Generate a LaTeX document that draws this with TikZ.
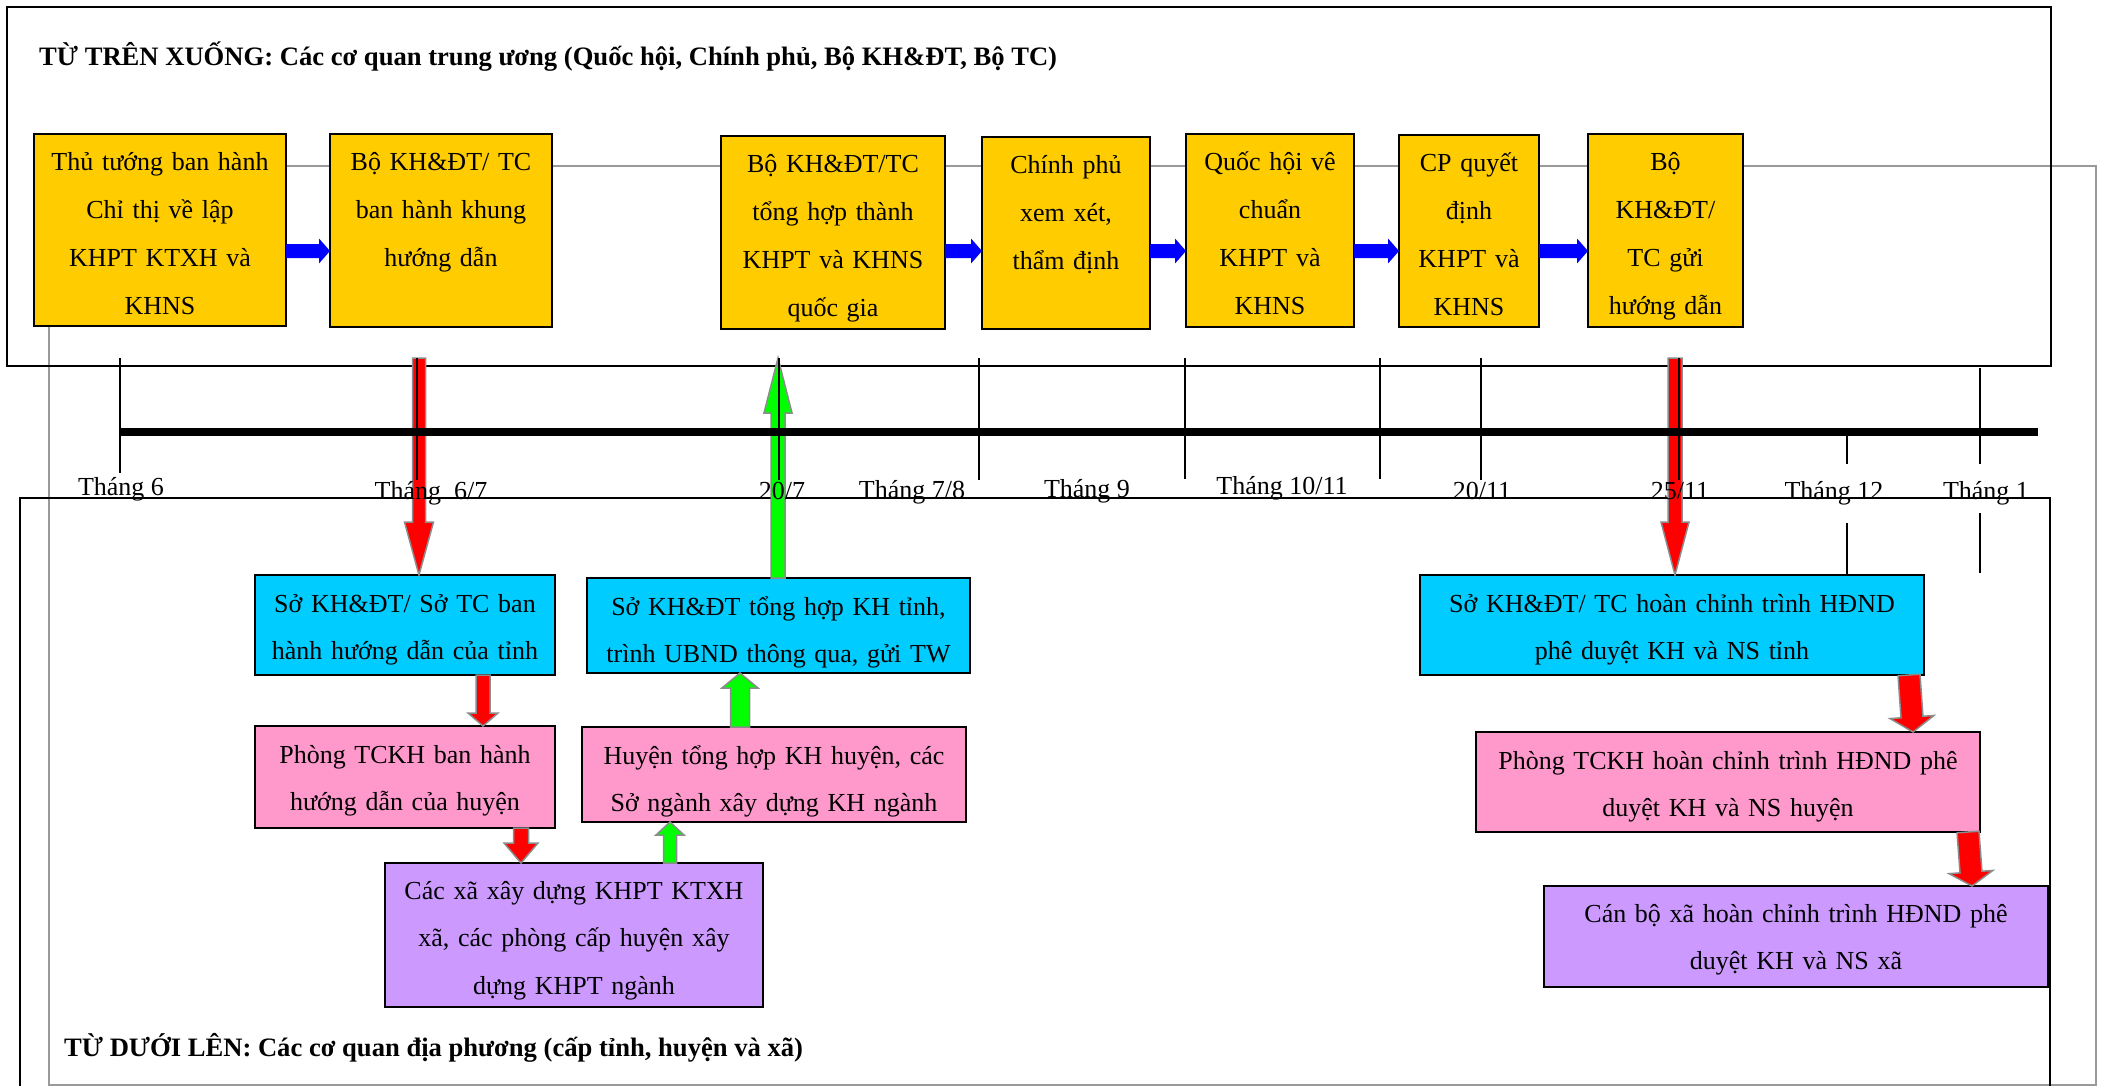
\documentclass[tikz,border=0pt]{standalone}
\usepackage{fontspec}
\setmainfont{Liberation Serif}
\usetikzlibrary{calc}

\definecolor{boxyellow}{HTML}{FFCC00}
\definecolor{boxcyan}{HTML}{00CCFF}
\definecolor{boxpink}{HTML}{FF99CC}
\definecolor{boxviolet}{HTML}{CC99FF}
\definecolor{guidegray}{HTML}{9A9A9A}
\definecolor{edgegray}{HTML}{8C8C8C}

\tikzset{
  stepbox/.style={draw=black, line width=2pt, inner sep=0pt, outer sep=0pt, anchor=north west},
  boxtext/.style={anchor=base, inner sep=0pt, text width=600pt, align=center,
                  font=\fontsize{26pt}{47.7pt}\selectfont},
  ticklabel/.style={anchor=base, inner sep=0pt, font=\fontsize{26pt}{30pt}\selectfont},
  heading/.style={anchor=base west, inner sep=0pt, font=\bfseries\fontsize{26.6pt}{30pt}\selectfont},
  frame/.style={draw=black, line width=2pt},
  guide/.style={draw=guidegray, line width=2pt},
  tickline/.style={draw=black, line width=1.4pt},
  downflow/.style={fill=red, draw=edgegray, line width=1.5pt, line join=miter},
  upflow/.style={fill=green, draw=edgegray, line width=1.5pt, line join=miter},
  nextflow/.style={fill=blue, draw=none},
}

% block arrow: from, tip, half shaft width, half head width, head length, style
\newcommand\blockarrow[6]{%
  \coordinate (ba-c) at ($(#2)!#5!(#1)$);
  \path[#6] ($(#1)!#3!90:(#2)$) -- ($(ba-c)!#3!-90:(#1)$) -- ($(ba-c)!#4!-90:(#1)$)
     -- (#2) -- ($(ba-c)!#4!90:(#1)$) -- ($(ba-c)!#3!90:(#1)$) -- ($(#1)!#3!-90:(#2)$) -- cycle;
}

\begin{document}
\begin{tikzpicture}[x=1pt, y=-1pt]
\useasboundingbox (0,0) rectangle (2109,1086);
\clip (0,0) rectangle (2109,1086);
\fill[white] (0,0) rectangle (2109,1086);

% thin grey guide frame behind everything
\draw[guide] (49,166) rectangle (2096,1085);

% outer frames of the two levels
\draw[frame] (7,7) rectangle (2051,366);
\draw[frame] (20,498) rectangle (2050,1120);

\node[heading] (toptitle) at (39,66)
  {TỪ TRÊN XUỐNG: Các cơ quan trung ương (Quốc hội, Chính phủ, Bộ KH\&ĐT, Bộ TC)};
\node[heading] (bottomtitle) at (64,1056)
  {TỪ DƯỚI LÊN: Các cơ quan địa phương (cấp tỉnh, huyện và xã)};

% central level
\node[stepbox, fill=boxyellow, minimum width=252pt, minimum height=192pt] (tb1) at (34,134) {};
\node[stepbox, fill=boxyellow, minimum width=222pt, minimum height=193pt] (tb2) at (330,134) {};
\node[stepbox, fill=boxyellow, minimum width=224pt, minimum height=193pt] (tb3) at (721,136) {};
\node[stepbox, fill=boxyellow, minimum width=168pt, minimum height=192pt] (tb4) at (982,137) {};
\node[stepbox, fill=boxyellow, minimum width=168pt, minimum height=193pt] (tb5) at (1186,134) {};
\node[stepbox, fill=boxyellow, minimum width=140pt, minimum height=192pt] (tb6) at (1399,135) {};
\node[stepbox, fill=boxyellow, minimum width=155pt, minimum height=193pt] (tb7) at (1588,134) {};

\node[boxtext] (tb1-t) at ([yshift=-37pt]tb1.north) {Thủ tướng ban hành\\Chỉ thị về lập\\KHPT KTXH và\\KHNS};
\node[boxtext] (tb2-t) at ([yshift=-37pt]tb2.north) {Bộ KH\&ĐT/ TC\\ban hành khung\\hướng dẫn};
\node[boxtext] (tb3-t) at ([yshift=-37pt]tb3.north) {Bộ KH\&ĐT/TC\\tổng hợp thành\\KHPT và KHNS\\quốc gia};
\node[boxtext] (tb4-t) at ([yshift=-37pt]tb4.north) {Chính phủ\\xem xét,\\thẩm định};
\node[boxtext] (tb5-t) at ([yshift=-37pt]tb5.north) {Quốc hội vê\\chuẩn\\KHPT và\\KHNS};
\node[boxtext] (tb6-t) at ([yshift=-37pt]tb6.north) {CP quyết\\định\\KHPT và\\KHNS};
\node[boxtext] (tb7-t) at ([yshift=-37pt]tb7.north) {Bộ\\KH\&ĐT/\\TC gửi\\hướng dẫn};

% local level
\node[stepbox, fill=boxcyan, minimum width=300pt, minimum height=100pt] (sk1) at (255,575) {};
\node[stepbox, fill=boxcyan, minimum width=383pt, minimum height=95pt] (sk2) at (587,578) {};
\node[stepbox, fill=boxcyan, minimum width=504pt, minimum height=100pt] (sk3) at (1420,575) {};
\node[stepbox, fill=boxpink, minimum width=300pt, minimum height=102pt] (pk1) at (255,726) {};
\node[stepbox, fill=boxpink, minimum width=384pt, minimum height=95pt] (pk2) at (582,727) {};
\node[stepbox, fill=boxpink, minimum width=504pt, minimum height=100pt] (pk3) at (1476,732) {};
\node[stepbox, fill=boxviolet, minimum width=378pt, minimum height=144pt] (pp1) at (385,863) {};
\node[stepbox, fill=boxviolet, minimum width=504pt, minimum height=101pt] (pp2) at (1544,886) {};

\node[boxtext] (sk1-t) at ([yshift=-37pt]sk1.north) {Sở KH\&ĐT/ Sở TC ban\\hành hướng dẫn của tỉnh};
\node[boxtext] (sk2-t) at ([yshift=-37pt]sk2.north) {Sở KH\&ĐT tổng hợp KH tỉnh,\\trình UBND thông qua, gửi TW};
\node[boxtext] (sk3-t) at ([yshift=-37pt]sk3.north) {Sở KH\&ĐT/ TC hoàn chỉnh trình HĐND\\phê duyệt KH và NS tỉnh};
\node[boxtext] (pk1-t) at ([yshift=-37pt]pk1.north) {Phòng TCKH ban hành\\hướng dẫn của huyện};
\node[boxtext] (pk2-t) at ([yshift=-37pt]pk2.north) {Huyện tổng hợp KH huyện, các\\Sở ngành xây dựng KH ngành};
\node[boxtext] (pk3-t) at ([yshift=-37pt]pk3.north) {Phòng TCKH hoàn chỉnh trình HĐND phê\\duyệt KH và NS huyện};
\node[boxtext] (pp1-t) at ([yshift=-36pt]pp1.north) {Các xã xây dựng KHPT KTXH\\xã, các phòng cấp huyện xây\\dựng KHPT ngành};
\node[boxtext] (pp2-t) at ([yshift=-36pt]pp2.north) {Cán bộ xã hoàn chỉnh trình HĐND phê\\duyệt KH và NS xã};

% blue arrows between the central steps
\coordinate (flowrow) at (0,251);
\coordinate (f12a) at (tb1.east |- flowrow); \coordinate (f12b) at (tb2.west |- flowrow);
\coordinate (f34a) at (tb3.east |- flowrow); \coordinate (f34b) at (tb4.west |- flowrow);
\coordinate (f45a) at (tb4.east |- flowrow); \coordinate (f45b) at (tb5.west |- flowrow);
\coordinate (f56a) at (tb5.east |- flowrow); \coordinate (f56b) at (tb6.west |- flowrow);
\coordinate (f67a) at (tb6.east |- flowrow); \coordinate (f67b) at (tb7.west |- flowrow);
\blockarrow{f12a}{f12b}{7pt}{12.5pt}{11pt}{nextflow}
\blockarrow{f34a}{f34b}{7pt}{12.5pt}{11pt}{nextflow}
\blockarrow{f45a}{f45b}{7pt}{12.5pt}{11pt}{nextflow}
\blockarrow{f56a}{f56b}{7pt}{12.5pt}{11pt}{nextflow}
\blockarrow{f67a}{f67b}{7pt}{12.5pt}{11pt}{nextflow}

% long arrows crossing the time axis
\coordinate (m67) at (419,358);  \coordinate (m67b) at (m67 |- sk1.north);
\coordinate (m207) at (778,358); \coordinate (m207b) at (m207 |- sk2.north);
\coordinate (m2511) at (1675,358); \coordinate (m2511b) at (m2511 |- sk3.north);
\blockarrow{m67}{m67b}{6.5pt}{14.5pt}{53pt}{downflow}
\blockarrow{m207b}{m207}{7pt}{14pt}{55pt}{upflow}
\blockarrow{m2511}{m2511b}{7pt}{14pt}{53pt}{downflow}

% time axis
\coordinate (axis-a) at (120,432);
\coordinate (axis-b) at (2038,432);
\draw[line width=8pt] (axis-a) -- (axis-b);
\draw[tickline] (120,358) -- (120,473);
\draw[tickline] (417,358) -- (417,480);
\draw[tickline] (779,358) -- (779,480);
\draw[tickline] (979,358) -- (979,480);
\draw[tickline] (1185,358) -- (1185,479);
\draw[tickline] (1380,358) -- (1380,479);
\draw[tickline] (1481,358) -- (1481,480);
\draw[tickline] (1679,358) -- (1679,480);
\draw[tickline] (1847,435) -- (1847,464);
\draw[tickline] (1847,523) -- (1847,575);
\draw[tickline] (1980,368) -- (1980,464);
\draw[tickline] (1980,513) -- (1980,573);

\node[ticklabel] (d1) at (121,495) {Tháng 6};
\node[ticklabel] (d2) at (431,499) {Tháng\ \ 6/7};
\node[ticklabel] (d3) at (782,499) {20/7};
\node[ticklabel] (d4) at (912,498) {Tháng 7/8};
\node[ticklabel] (d5) at (1087,497) {Tháng 9};
\node[ticklabel] (d6) at (1282,494) {Tháng 10/11};
\node[ticklabel] (d7) at (1482,499) {20/11};
\node[ticklabel] (d8) at (1680,499) {25/11};
\node[ticklabel] (d9) at (1834,499) {Tháng 12};
\node[ticklabel] (d10) at (1986,499) {Tháng 1};

% short arrows between the local levels
\coordinate (s1a) at (483,0);
\coordinate (s2a) at (740,0);
\coordinate (s3a) at (521,0);
\coordinate (s4a) at (670,0);
\coordinate (s5a) at (1909,0); \coordinate (s5b) at (1913,0);
\coordinate (s6a) at (1968,0); \coordinate (s6b) at (1972,0);
\coordinate (r1a) at (s1a |- sk1.south); \coordinate (r1b) at (s1a |- pk1.north);
\coordinate (g1a) at (s2a |- pk2.north); \coordinate (g1b) at (s2a |- sk2.south);
\coordinate (r2a) at (s3a |- pk1.south); \coordinate (r2b) at (s3a |- pp1.north);
\coordinate (g2a) at (s4a |- pp1.north); \coordinate (g2b) at (s4a |- pk2.south);
\coordinate (r3a) at (s5a |- sk3.south); \coordinate (r3b) at (s5b |- pk3.north);
\coordinate (r4a) at (s6a |- pk3.south); \coordinate (r4b) at (s6b |- pp2.north);
\blockarrow{r1a}{r1b}{7pt}{15pt}{13pt}{downflow}
\blockarrow{g1a}{g1b}{9.5pt}{18pt}{15pt}{upflow}
\blockarrow{r2a}{r2b}{7.5pt}{17pt}{20pt}{downflow}
\blockarrow{g2a}{g2b}{6.5pt}{14pt}{13pt}{upflow}
\blockarrow{r3a}{r3b}{11pt}{22pt}{15pt}{downflow}
\blockarrow{r4a}{r4b}{11pt}{22pt}{14pt}{downflow}
\end{tikzpicture}
\end{document}
